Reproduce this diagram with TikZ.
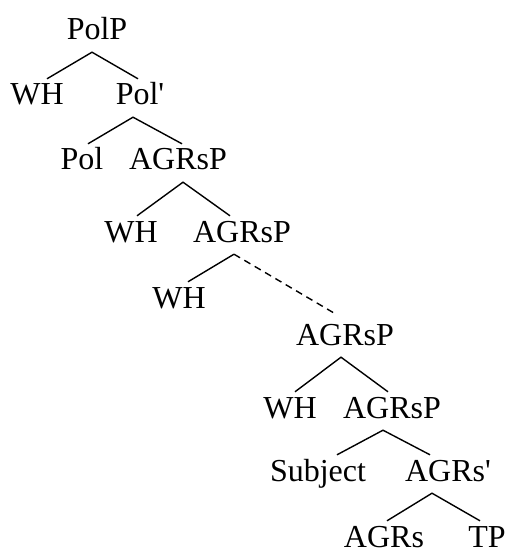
\documentclass[tikz,border=0pt]{standalone}
\usepackage{fontspec}
\setmainfont{Liberation Serif}

\begin{document}
\begin{tikzpicture}[
  x=1pt, y=-1pt,
  every node/.style={font=\fontsize{32}{38}\selectfont},
  cat/.style={anchor=base, inner xsep=0pt, inner ysep=5pt, text height=21pt, text depth=7pt},
  leaf/.style={cat, text depth=0pt},
  branch/.style={line width=1.4pt},
  gap/.style={line width=1.4pt, dash pattern=on 7pt off 5pt},
]

\useasboundingbox (0,0) rectangle (507,553);

\node[cat] (polp) at (97,40) {PolP};
\node[cat] (wh1) at (37,105) {WH};
\node[cat] (polbar) at (140,105) {Pol\textquotesingle};
\node[cat] (pol) at (82,170) {Pol};
\node[cat] (agrsp1) at (178,170) {AGRsP};
\node[cat] (wh2) at (131,242) {WH};
\node[cat] (agrsp2) at (242,242) {AGRsP};
\node[cat] (wh3) at (179,308) {WH};
\node[cat] (agrsp3) at (345,345) {AGRsP};
\node[cat] (wh4) at (290,418) {WH};
\node[cat] (agrsp4) at (392,418) {AGRsP};
\node[cat] (subj) at (318,481) {Subject};
\node[cat] (agrsbar) at (448,481) {AGRs\textquotesingle};
\node[leaf] (agrs) at (384,547) {AGRs};
\node[leaf] (tp) at (487,547) {TP};

\draw[branch] ([xshift=10pt]wh1.north) -- ([xshift=-5pt]polp.south) -- ([xshift=-2pt]polbar.north);
\draw[branch] ([xshift=6pt]pol.north) -- ([xshift=-7pt]polbar.south) -- ([xshift=4pt]agrsp1.north);
\draw[branch] ([xshift=6pt]wh2.north) -- ([xshift=5pt]agrsp1.south) -- ([xshift=-12pt]agrsp2.north);
\draw[branch] ([xshift=9pt]wh3.north) -- ([xshift=-8pt]agrsp2.south);
\draw[gap] ([xshift=-8pt]agrsp2.south) -- ([shift={(-8pt,4pt)}]agrsp3.north);
\draw[branch] ([xshift=5pt]wh4.north) -- ([xshift=-4pt]agrsp3.south) -- ([xshift=-4pt]agrsp4.north);
\draw[branch] ([xshift=19pt]subj.north) -- ([xshift=-9pt]agrsp4.south) -- ([xshift=-18pt]agrsbar.north);
\draw[branch] ([xshift=3pt]agrs.north) -- ([xshift=-16pt]agrsbar.south) -- ([xshift=-7pt]tp.north);

\end{tikzpicture}
\end{document}
